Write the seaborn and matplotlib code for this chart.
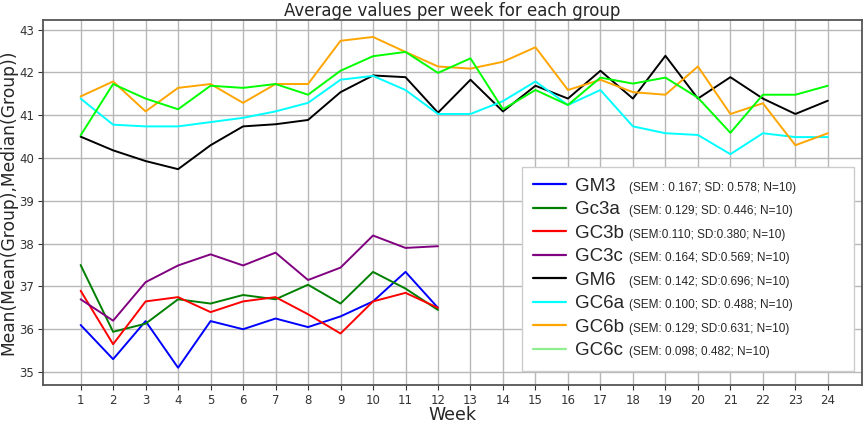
import seaborn as sns
import pandas as pd
import matplotlib.pyplot as plt
from matplotlib.lines import Line2D


WEEKS = list(range(1, 25))

GROUPS = ["GM3", "Gc3a", "GC3b", "GC3c", "GM6", "GC6a", "GC6b", "GC6c"]
STATS = ["(SEM : 0.167; SD: 0.578; N=10)",
         "(SEM: 0.129; SD: 0.446; N=10)",
         "(SEM:0.110; SD:0.380; N=10)",
         "(SEM: 0.164; SD:0.569; N=10)",
         "(SEM: 0.142; SD:0.696; N=10)",
         "(SEM: 0.100; SD: 0.488; N=10)",
         "(SEM: 0.129; SD:0.631; N=10)",
         "(SEM: 0.098; 0.482; N=10)"]
LINE_COLORS = ["blue", "green", "red", "purple", "black", "cyan", "orange",
               "lime"]
LEGEND_COLORS = ["blue", "green", "red", "purple", "black", "cyan", "orange",
                 "lightgreen"]

# weeks 1-12 only for the 3-month groups
gm3 = [36.10, 35.30, 36.19, 35.10, 36.19, 36.00, 36.25, 36.05, 36.30, 36.65,
       37.34, 36.50]
gc3a = [37.50, 35.94, 36.13, 36.70, 36.60, 36.80, 36.70, 37.04, 36.60, 37.34,
        36.95, 36.45]
gc3b = [36.90, 35.65, 36.65, 36.75, 36.40, 36.65, 36.75, 36.35, 35.90, 36.65,
        36.85, 36.50]
gc3c = [36.70, 36.20, 37.10, 37.49, 37.75, 37.49, 37.79, 37.15, 37.44, 38.19,
        37.90, 37.94]

# weeks 1-24 for the 6-month groups
gm6 = [40.50, 40.18, 39.93, 39.74, 40.30, 40.74, 40.79, 40.89, 41.54, 41.93,
       41.89, 41.06, 41.83, 41.09, 41.69, 41.39, 42.04, 41.39, 42.39, 41.39,
       41.89, 41.39, 41.03, 41.34]
gc6a = [41.39, 40.78, 40.74, 40.74, 40.84, 40.94, 41.09, 41.29, 41.83, 41.92,
        41.59, 41.03, 41.03, 41.33, 41.79, 41.24, 41.59, 40.74, 40.58, 40.54,
        40.09, 40.58, 40.49, 40.49]
gc6b = [41.44, 41.79, 41.09, 41.64, 41.73, 41.29, 41.73, 41.73, 42.74, 42.83,
        42.48, 42.14, 42.09, 42.25, 42.59, 41.59, 41.83, 41.54, 41.48, 42.14,
        41.03, 41.28, 40.30, 40.58]
gc6c = [40.53, 41.73, 41.39, 41.14, 41.69, 41.64, 41.73, 41.48, 42.04, 42.38,
        42.48, 41.99, 42.33, 41.14, 41.59, 41.24, 41.88, 41.74, 41.88, 41.41,
        40.59, 41.48, 41.48, 41.69]

SERIES = [gm3, gc3a, gc3b, gc3c, gm6, gc6a, gc6b, gc6c]


def build_frame():
    """
    Turns the per-group lists into one long-form table for seaborn.
    """
    rows = []
    for name, values in zip(GROUPS, SERIES):
        for week, value in zip(WEEKS, values):
            rows.append({"Week": week, "Value": value, "Group": name})
    return pd.DataFrame(rows)


def main():
    sns.set_style("ticks")
    plt.rcParams["font.family"] = ["DejaVu Sans"]

    data = build_frame()
    fig = plt.figure(figsize=(8.65, 4.22), dpi=100)
    ax = fig.add_axes([0.05, 0.088, 0.9465, 0.865])

    sns.lineplot(data=data, x="Week", y="Value", hue="Group",
                 hue_order=GROUPS, palette=LINE_COLORS, linewidth=1.4,
                 legend=False, ax=ax)

    ax.set_xlim(-0.15, 25.05)
    ax.set_ylim(34.7, 43.23)
    ax.set_xticks(WEEKS)
    ax.set_yticks(range(35, 44))
    ax.tick_params(labelsize=8.5, colors="#333333", pad=3)
    ax.grid(True, color="#b8b8b8", linewidth=1.0)
    for spine in ax.spines.values():
        spine.set_color("#555555")
        spine.set_linewidth(1.3)

    ax.set_title("Average values per week for each group", fontsize=12,
                 pad=3)
    ax.set_xlabel("Week", fontsize=12.5, labelpad=-1)
    ax.set_ylabel("Mean(Mean(Group),Median(Group))", fontsize=12.3,
                  labelpad=1)

    handles = [Line2D([], [], color=c, linewidth=1.6) for c in LEGEND_COLORS]
    leg = ax.legend(handles, GROUPS, loc="upper left",
                    bbox_to_anchor=(0.585, 0.598, 0.405, 0.0), mode="expand",
                    borderaxespad=0.0,
                    prop={"family": "Liberation Sans", "size": 13.5},
                    labelspacing=0.34, handlelength=1.75, handletextpad=0.45,
                    borderpad=0.6, framealpha=1.0, fancybox=False,
                    edgecolor="#cccccc")
    leg.set_zorder(5)

    for text, stat in zip(leg.get_texts(), STATS):
        ax.annotate(stat, xy=(0.716, 0.42), xycoords=(ax.transAxes, text),
                    va="center", ha="left", fontsize=8.5,
                    family="Liberation Sans", zorder=6)

    plt.savefig("out.png", dpi=100)


if __name__ == "__main__":
    main()
